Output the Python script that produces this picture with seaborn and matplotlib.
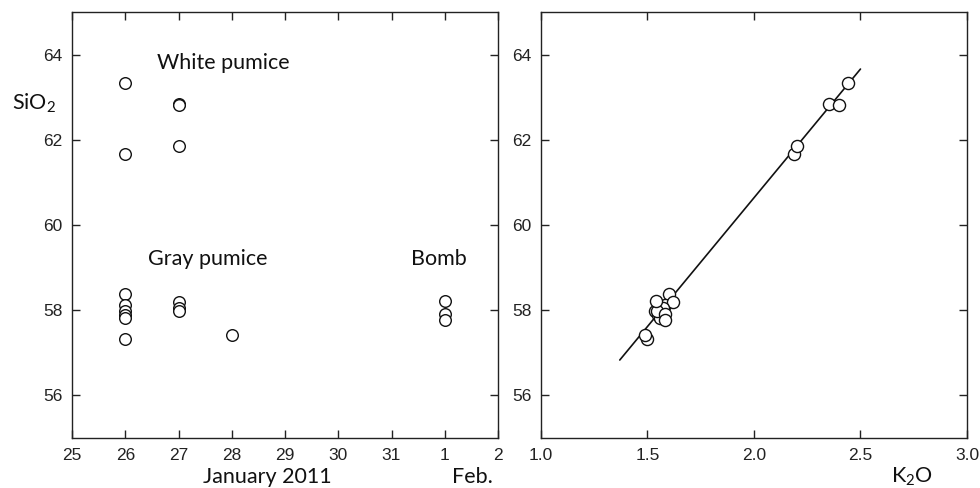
import matplotlib
matplotlib.use('Agg')
import matplotlib.pyplot as plt
import numpy as np
import pandas as pd
import seaborn as sns

# sample dates (January 2011 day number; Feb 1 -> 32), K2O and SiO2 (wt%)
day = [26, 26, 27, 27, 27,
       26, 26, 26, 26, 26, 26,
       27, 27, 27,
       28,
       32, 32, 32]
k2o = [2.44, 2.19, 2.35, 2.40, 2.20,
       1.60, 1.58, 1.535, 1.55, 1.56, 1.50,
       1.62, 1.575, 1.545,
       1.49,
       1.54, 1.58, 1.58]
sio2 = [63.33, 61.66, 62.84, 62.82, 61.85,
        58.38, 58.12, 57.97, 57.88, 57.82, 57.33,
        58.20, 58.05, 57.98,
        57.42,
        58.22, 57.90, 57.78]
group = ['White pumice'] * 5 + ['Gray pumice'] * 10 + ['Bomb'] * 3

# regression line end points
fit_x = [1.37, 2.50]
fit_y = [56.83, 63.66]

day_ticks = [25, 26, 27, 28, 29, 30, 31, 32, 33]
day_labels = ['25', '26', '27', '28', '29', '30', '31', '1', '2']
k2o_ticks = [1.0, 1.5, 2.0, 2.5, 3.0]
sio2_ticks = [56, 58, 60, 62, 64]

df = pd.DataFrame({'day': day, 'K2O': k2o, 'SiO2': sio2, 'group': group})

sns.set_style('ticks')
plt.rcParams['font.family'] = ['Liberation Sans', 'DejaVu Sans']
plt.rcParams['mathtext.fontset'] = 'custom'
plt.rcParams['mathtext.rm'] = 'Lato'
plt.rcParams['mathtext.it'] = 'Lato:italic'
plt.rcParams['axes.edgecolor'] = '#222222'
plt.rcParams['axes.linewidth'] = 1.0

fig = plt.figure(figsize=(9.8, 4.88), dpi=100)
ax1 = fig.add_axes([0.0735, 0.1025, 0.4347, 0.873])
ax2 = fig.add_axes([0.552, 0.1025, 0.4347, 0.873])

lab_font = dict(family='Lato', fontsize=15.5, color='#111111')

# left: SiO2 vs date
sns.scatterplot(data=df, x='day', y='SiO2', ax=ax1, s=70, color='white',
                edgecolor='#111111', linewidth=1.0, legend=False, zorder=3)
ax1.set_xlim(25, 33)
ax1.set_ylim(55, 65)
ax1.set_xticks(day_ticks)
ax1.set_xticklabels(day_labels)
ax1.set_yticks(sio2_ticks)
ax1.set_xlabel('')
ax1.set_ylabel('')
ax1.text(26.59, 63.81, 'White pumice', ha='left', va='center', **lab_font)
ax1.text(26.43, 59.19, 'Gray pumice', ha='left', va='center', **lab_font)
ax1.text(31.36, 59.19, 'Bomb', ha='left', va='center', **lab_font)
ax1.text(28.67, -0.092, 'January 2011', transform=ax1.get_xaxis_transform(),
         ha='center', va='center', **lab_font)
ax1.text(32.52, -0.092, 'Feb.', transform=ax1.get_xaxis_transform(),
         ha='center', va='center', **lab_font)
ax1.text(-0.14, 62.85, r'SiO$_\mathrm{2}$', transform=ax1.get_yaxis_transform(),
         ha='left', va='center', **lab_font)

# right: SiO2 vs K2O
sns.lineplot(x=fit_x, y=fit_y, ax=ax2, color='#111111', linewidth=1.2, zorder=2)
sns.scatterplot(data=df, x='K2O', y='SiO2', ax=ax2, s=76, color='white',
                edgecolor='#111111', linewidth=1.0, legend=False, zorder=3)
ax2.set_xlim(1.0, 3.0)
ax2.set_ylim(55, 65)
ax2.set_xticks(k2o_ticks)
ax2.set_xticklabels(['%.1f' % t for t in k2o_ticks])
ax2.set_yticks(sio2_ticks)
ax2.set_xlabel('')
ax2.set_ylabel('')
ax2.text(2.74, -0.092, r'K$_\mathrm{2}$O', transform=ax2.get_xaxis_transform(),
         ha='center', va='center', **lab_font)

for ax in (ax1, ax2):
    for sp in ax.spines.values():
        sp.set_visible(True)
    ax.tick_params(direction='in', length=6, width=1.0, color='#222222',
                   top=True, right=True, labelsize=12.5, pad=7,
                   labelcolor='#222222')

fig.savefig('out.png', dpi=100)
